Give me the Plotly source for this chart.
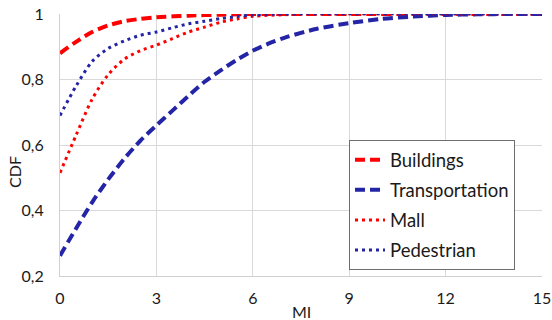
import plotly.graph_objects as go

# MI values and CDF readings per environment
mi_buildings = [0, 0.5, 1, 1.5, 2, 2.5, 3, 4, 5, 6, 9, 12, 15]
cdf_buildings = [0.88, 0.915, 0.945, 0.965, 0.978, 0.985, 0.99, 0.995, 0.998, 1.0, 1.0, 1.0, 1.0]

mi_transport = [0, 0.5, 1, 1.5, 2, 2.5, 3, 3.5, 4, 4.5, 5, 5.5, 6, 6.5, 7, 8, 9, 10, 11, 12, 13, 14, 15]
cdf_transport = [0.262, 0.345, 0.425, 0.495, 0.558, 0.613, 0.66, 0.705, 0.75, 0.793, 0.828, 0.86, 0.888,
                 0.91, 0.928, 0.955, 0.972, 0.985, 0.992, 0.997, 0.999, 1.0, 1.0]

mi_mall = [0, 0.5, 1, 1.5, 2, 2.5, 3, 3.5, 4, 4.5, 5, 5.5, 6, 7, 8, 15]
cdf_mall = [0.515, 0.63, 0.74, 0.815, 0.862, 0.888, 0.905, 0.925, 0.945, 0.96, 0.975, 0.985, 0.993, 0.998, 1.0, 1.0]

mi_ped = [0, 0.5, 1, 1.5, 2, 2.5, 3, 3.5, 4, 4.5, 5, 5.5, 6, 7, 15]
cdf_ped = [0.69, 0.78, 0.855, 0.895, 0.918, 0.935, 0.945, 0.958, 0.97, 0.978, 0.986, 0.992, 0.997, 1.0, 1.0]

x_ticks = [0, 3, 6, 9, 12, 15]
y_ticks = [0.2, 0.4, 0.6, 0.8, 1.0]
y_ticktext = ["0,2", "0,4", "0,6", "0,8", "1"]

RED = "#ff0000"
BLUE = "#2424a6"
FONT = "Lato, Open Sans, sans-serif"
TEXT = "#1a1a1a"

series = [
    ("Buildings", mi_buildings, cdf_buildings, RED, 4, "10px,5px"),
    ("Transportation", mi_transport, cdf_transport, BLUE, 4, "10px,5px"),
    ("Mall", mi_mall, cdf_mall, RED, 3, "3px,4px"),
    ("Pedestrian", mi_ped, cdf_ped, BLUE, 3, "3px,4px"),
]

fig = go.Figure()
for name, xs, ys, color, width, dash in series:
    fig.add_trace(go.Scatter(
        x=xs, y=ys, name=name, mode="lines", legendgroup=name,
        line=dict(color=color, width=width, dash=dash, shape="spline", smoothing=0.8),
    ))

fig.update_layout(
    width=552, height=320,
    margin=dict(l=60, r=10, t=14, b=44),
    paper_bgcolor="white", plot_bgcolor="white",
    font=dict(family=FONT, size=16, color=TEXT),
    showlegend=True,
    legend=dict(
        x=0.5996, y=0.518, xanchor="left", yanchor="top",
        bordercolor="#6e6e6e", borderwidth=1, bgcolor="white",
        font=dict(family=FONT, size=18.5, color=TEXT),
        tracegroupgap=3,
    ),
    xaxis=dict(
        range=[0, 15], tickvals=x_ticks, showgrid=True, gridcolor="#d9d9d9", gridwidth=1,
        showline=True, linecolor="#d0d0d0", zeroline=False, automargin=False,
        ticks="outside", ticklen=8, tickcolor="rgba(0,0,0,0)",
        tickfont=dict(size=16),
    ),
    yaxis=dict(
        range=[0.2, 1.0], tickvals=y_ticks, ticktext=y_ticktext, showgrid=True,
        gridcolor="#d9d9d9", gridwidth=1, showline=True, linecolor="#d0d0d0",
        zeroline=False, automargin=False,
        ticks="outside", ticklen=12, tickcolor="rgba(0,0,0,0)",
        tickfont=dict(size=16),
    ),
    annotations=[
        dict(text="CDF", xref="paper", yref="paper", x=-0.0934, y=0.397,
             xanchor="center", yanchor="middle", textangle=-90, showarrow=False,
             font=dict(size=16, color=TEXT)),
        dict(text="MI", xref="paper", yref="paper", x=0.502, y=-0.1336,
             xanchor="center", yanchor="middle", showarrow=False,
             font=dict(size=16, color=TEXT)),
    ],
)

fig.write_html("out.html")
